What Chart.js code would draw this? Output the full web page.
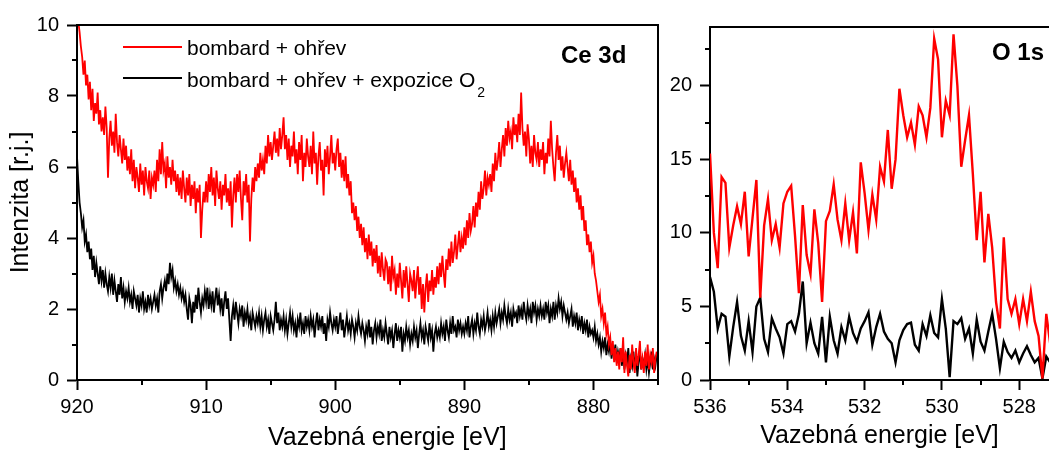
<!DOCTYPE html>
<html>
<head>
<meta charset="utf-8">
<script src="https://cdn.jsdelivr.net/npm/chart.js@4/dist/chart.umd.min.js"></script>
<style>
  html, body { margin: 0; padding: 0; background: #fff; }
  body { width: 1049px; height: 456px; position: relative; overflow: hidden;
         font-family: "Liberation Sans", Arial, sans-serif; color: #000; }
  canvas { position: absolute; top: 0; }
  #ceChart { left: 0; }
  #oChart { left: 660px; }
  .lbl { position: absolute; white-space: nowrap; line-height: 1; }
  .swatch { position: absolute; height: 2px; width: 59px; }
</style>
</head>
<body>
<canvas id="ceChart" width="660" height="456"></canvas>
<canvas id="oChart" width="389" height="456"></canvas>

<div class="swatch" style="left:123px; top:46px; background:#ff0000"></div>
<div class="lbl" style="left:187px; top:37px; font-size:21px">bombard + ohřev</div>
<div class="swatch" style="left:123px; top:77px; background:#000"></div>
<div class="lbl" style="left:187px; top:69px; font-size:21px">bombard + ohřev + expozice O<span style="font-size:14px; position:relative; top:10px; margin-left:2px">2</span></div>
<div class="lbl" style="left:561px; top:43px; font-size:24px; font-weight:bold">Ce 3d</div>
<div class="lbl" style="left:992px; top:40px; font-size:24px; font-weight:bold">O 1s</div>
<div class="lbl" style="left:268px; top:424px; font-size:25px">Vazebná energie [eV]</div>

<script>
const FONT = '"Liberation Sans", Arial, sans-serif';

// Ce 3d region, sampled every 0.1 eV from 920 eV downwards (one row = 2 eV)
const ceStart = 920;
const ceStep = 0.1;
const ceRed = [
  10.4, 10.1, 9.8, 9.4, 9.1, 8.6, 9.0, 8.3, 8.6, 7.9, 8.4, 7.6, 8.2, 7.3, 7.8, 7.5, 8.1, 7.2, 7.6, 7.0,
  7.4, 6.9, 7.7, 7.1, 5.7, 6.8, 7.3, 6.6, 7.0, 6.4, 7.5, 6.7, 6.3, 6.9, 6.5, 6.1, 6.8, 6.2, 6.6, 5.9,
  6.3, 5.8, 6.5, 5.6, 6.2, 5.4, 6.0, 5.7, 5.3, 6.1, 5.5, 5.9, 5.2, 6.0, 5.6, 5.4, 5.9, 5.1, 5.7, 5.5,
  5.9, 5.3, 6.2, 5.6, 6.5, 5.8, 6.7, 5.9, 6.1, 5.4, 6.3, 5.7, 6.0, 5.5, 6.2, 5.6, 5.9, 5.3, 5.8, 5.2,
  5.7, 5.1, 5.9, 5.4, 5.0, 5.7, 5.2, 5.8, 4.9, 5.5, 5.1, 5.6, 4.7, 5.4, 5.0, 5.5, 4.0, 4.8, 5.3, 5.0,
  5.6, 5.0, 5.8, 5.3, 6.0, 5.2, 5.7, 4.9, 5.9, 5.4, 5.1, 5.6, 4.8, 5.5, 5.2, 5.8, 5.0, 5.4, 4.9, 5.6,
  4.3, 5.2, 5.7, 5.0, 5.8, 5.3, 5.9, 5.1, 4.5, 5.6, 5.2, 5.8, 5.0, 5.5, 3.9, 5.1, 5.7, 5.3, 6.0, 5.6,
  6.1, 5.7, 6.4, 5.9, 6.2, 5.8, 6.6, 6.1, 6.9, 6.3, 6.7, 6.2, 6.6, 7.0, 6.4, 6.8, 6.3, 7.1, 6.5, 6.9,
  7.4, 6.5, 6.9, 6.2, 6.8, 6.0, 6.6, 6.3, 7.0, 6.1, 6.5, 5.8, 6.7, 6.2, 6.9, 5.6, 6.4, 6.0, 6.8, 6.3,
  6.0, 6.6, 5.8, 7.0, 6.1, 6.4, 5.5, 6.3, 6.7, 5.9, 6.2, 5.2, 6.5, 6.0, 6.6, 5.8, 6.3, 6.9, 6.1, 6.4,
  5.9, 6.5, 6.8, 6.0, 6.4, 5.7, 6.2, 5.6, 6.3, 5.4, 5.8, 5.2, 5.6, 4.7, 5.0, 4.5, 4.9, 4.2, 4.6, 4.0,
  4.4, 3.8, 4.3, 3.6, 4.0, 3.4, 4.1, 3.5, 3.9, 3.2, 3.7, 3.3, 3.8, 3.0, 3.5, 2.9, 3.6, 3.1, 2.8, 3.4,
  3.3, 2.7, 3.2, 2.5, 3.5, 2.9, 3.1, 2.4, 3.0, 2.6, 3.3, 2.8, 2.3, 3.1, 2.6, 3.2, 2.7, 2.2, 3.0, 2.8,
  2.5, 3.1, 2.3, 2.8, 3.2, 2.4, 2.9, 2.0, 2.7, 1.9, 2.6, 3.0, 2.2, 2.8, 2.5, 3.1, 2.4, 2.9, 2.6, 3.2,
  2.7, 3.3, 2.9, 3.5, 3.0, 2.6, 3.4, 3.1, 3.7, 3.2, 3.9, 3.3, 3.6, 4.1, 3.4, 3.8, 4.2, 3.6, 4.0, 3.7,
  4.3, 3.8, 4.5, 4.0, 4.7, 4.2, 4.4, 4.9, 4.3, 5.0, 4.6, 5.3, 4.8, 5.6, 5.1, 5.4, 5.9, 5.2, 5.7, 5.5,
  5.8, 5.3, 6.1, 5.6, 6.4, 5.9, 6.2, 6.7, 6.0, 6.5, 6.9, 6.3, 7.1, 6.6, 7.3, 6.8, 7.0, 6.5, 7.4, 6.9,
  7.2, 6.7, 7.5, 6.9, 8.1, 7.1, 6.6, 7.0, 6.3, 7.2, 6.8, 6.1, 6.6, 6.0, 6.9, 6.4, 6.2, 6.7, 6.0, 6.5,
  6.2, 6.7, 5.8, 6.4, 6.1, 6.8, 6.3, 7.3, 6.5, 6.0, 5.6, 6.4, 6.9, 6.2, 6.6, 5.9, 6.3, 5.7, 6.1, 6.4,
  6.0, 5.6, 6.2, 5.5, 5.9, 5.3, 5.7, 5.0, 5.4, 4.8, 5.2, 4.5, 4.9, 4.2, 4.5, 3.8, 4.1, 3.6, 3.9, 3.3,
  3.5, 3.0, 2.8, 2.5, 2.2, 2.4, 1.8, 2.0, 1.6, 1.9, 1.3, 1.5, 1.0, 1.2, 0.7, 1.1, 0.5, 0.9, 0.4, 0.8,
  0.3, 0.9, 0.5, 1.2, 0.2, 0.8, 0.4, 0.1, 0.7, 0.3, 1.0, 0.5, 0.2, 0.9, 0.4, 0.7, 1.1, 0.3, 0.6, 0.2,
  0.8, 0.4, 1.0, 0.3, 0.7, 0.5, 0.9, 0.2, 0.6, 0.8
];
const ceBlack = [
  6.3, 5.6, 5.0, 4.7, 4.3, 4.5, 3.9, 4.1, 3.6, 3.9, 3.4, 3.7, 3.1, 3.5, 2.9, 3.3, 3.0, 2.7, 3.2, 2.8,
  3.1, 2.6, 3.0, 2.7, 2.5, 2.9, 2.6, 3.0, 2.4, 2.8, 2.5, 2.2, 2.7, 2.4, 2.9, 2.3, 2.6, 2.2, 2.5, 2.3,
  2.6, 2.2, 2.4, 2.0, 2.5, 2.3, 2.1, 2.4, 1.9, 2.3, 2.1, 2.5, 2.0, 2.2, 1.9, 2.4, 2.1, 2.3, 2.0, 2.2,
  2.4, 2.1, 2.3, 1.9, 2.5, 2.7, 2.3, 2.6, 2.8, 2.5, 3.0, 2.7, 3.3, 2.9, 3.1, 2.6, 2.8, 2.5, 2.7, 2.4,
  2.6, 2.3, 2.5, 2.2, 2.4, 2.0, 1.7, 2.3, 2.1, 1.6, 2.2, 1.9, 2.4, 2.0, 2.6, 2.2, 1.9, 2.3, 2.1, 2.5,
  2.2, 2.6, 2.0, 2.4, 2.1, 2.5, 1.9, 2.3, 2.6, 2.1, 2.4, 2.0, 2.3, 1.8, 2.2, 2.5, 2.0, 2.3, 1.7, 1.1,
  1.8, 2.1, 1.7, 2.2, 1.9, 1.6, 2.0, 1.8, 2.1, 1.5, 1.9, 1.7, 2.0, 1.6, 1.8, 1.4, 1.9, 1.7, 1.5, 1.8,
  1.6, 1.9, 1.5, 1.8, 1.4, 1.7, 1.9, 1.5, 1.7, 1.3, 1.8, 1.6, 1.4, 1.7, 2.2, 1.6, 1.9, 1.4, 1.7, 1.5,
  1.8, 1.4, 1.7, 1.3, 1.6, 1.9, 1.5, 1.8, 1.4, 1.6, 1.2, 1.7, 1.5, 1.9, 1.4, 1.6, 1.3, 1.8, 1.5, 1.7,
  1.4, 1.8, 1.5, 1.7, 1.2, 1.6, 1.9, 1.4, 1.7, 1.5, 1.8, 1.3, 1.6, 1.1, 1.7, 1.5, 1.9, 1.6, 1.4, 1.7,
  1.5, 1.8, 1.3, 1.6, 1.9, 1.4, 1.7, 1.2, 1.5, 1.8, 1.4, 1.6, 1.3, 1.7, 1.5, 1.2, 1.6, 1.4, 1.8, 1.5,
  1.3, 1.6, 1.4, 1.1, 1.5, 1.3, 1.7, 1.2, 1.5, 1.0, 1.4, 1.6, 1.2, 1.5, 1.3, 1.7, 1.1, 1.4, 1.2, 1.6,
  1.3, 1.0, 1.5, 1.2, 1.4, 0.9, 1.3, 1.6, 1.1, 1.4, 1.2, 1.5, 0.8, 1.3, 1.1, 1.5, 1.2, 1.4, 1.0, 1.3,
  1.1, 1.5, 1.2, 1.4, 0.9, 1.3, 1.6, 1.2, 1.4, 1.0, 1.5, 1.3, 1.1, 1.6, 1.2, 1.4, 0.8, 1.3, 1.5, 1.2,
  1.4, 1.2, 1.6, 1.3, 1.5, 1.1, 1.7, 1.4, 1.2, 1.6, 1.3, 1.8, 1.4, 1.5, 1.2, 1.7, 1.4, 1.6, 1.3, 1.5,
  1.3, 1.6, 1.4, 1.8, 1.2, 1.5, 1.7, 1.3, 1.6, 1.4, 1.9, 1.5, 1.3, 1.7, 1.5, 1.8, 1.4, 1.6, 1.9, 1.5,
  1.7, 1.4, 1.8, 1.5, 1.9, 1.6, 1.8, 2.0, 1.6, 1.9, 1.7, 2.1, 1.8, 1.6, 2.0, 1.7, 1.9, 1.5, 2.0, 1.8,
  1.9, 1.6, 2.1, 1.8, 2.0, 1.7, 2.2, 1.9, 1.7, 2.1, 1.8, 2.0, 1.6, 2.2, 1.9, 2.1, 1.7, 2.0, 1.8, 2.1,
  1.8, 2.0, 1.7, 2.2, 1.9, 2.1, 1.6, 2.0, 1.8, 2.2, 1.7, 2.1, 1.9, 2.3, 2.0, 2.2, 1.8, 2.1, 1.9, 1.7,
  1.9, 1.6, 1.8, 2.0, 1.5, 1.8, 1.6, 1.9, 1.4, 1.7, 1.5, 1.8, 1.3, 1.6, 1.4, 1.7, 1.2, 1.5, 1.3, 1.4,
  1.2, 1.5, 1.1, 1.3, 1.0, 1.2, 0.8, 1.1, 0.9, 1.2, 0.7, 1.0, 0.8, 1.1, 0.6, 0.9, 0.7, 1.0, 0.5, 0.8,
  0.6, 0.9, 0.4, 0.8, 0.3, 0.7, 0.5, 0.9, 0.2, 0.6, 0.4, 0.8, 0.3, 0.7, 0.1, 0.5, 0.8, 0.3, 0.6, 0.4,
  0.7, 0.3, 0.6, 0.2, 0.5, 0.8, 0.3, 0.6, 0.4, 0.7
];

// O 1s region, sampled every 0.1 eV from 536 eV downwards
const oStart = 536;
const oStep = 0.1;
const oRed = [
  15.4, 10.0, 7.6, 13.8, 13.4, 9.0, 10.5, 11.8, 10.6, 12.8,
  8.4, 11.0, 13.6, 5.6, 10.5, 12.3, 9.5, 10.6, 9.0, 12.0,
  12.8, 13.2, 9.8, 5.9, 11.9, 8.5, 7.2, 11.6, 9.3, 5.3,
  10.8, 11.5, 13.3, 10.9, 9.5, 12.0, 9.5, 11.4, 8.6, 14.8,
  12.7, 10.2, 12.6, 10.9, 14.5, 13.5, 17.0, 13.0, 15.0, 19.8,
  18.0, 16.5, 17.5, 16.0, 18.6, 18.0, 16.5, 18.5, 23.2, 21.8,
  16.5, 19.0, 18.0, 23.5, 20.0, 14.5, 16.3, 18.0, 14.0, 9.5,
  12.8, 8.0, 11.3, 9.0, 5.3, 3.5, 9.7, 5.5, 4.5, 5.5,
  3.8, 5.5, 4.0, 6.0, 4.0, 3.0, 0.1, 4.5, 2.5
];
const oBlack = [
  7.0, 6.0, 3.5, 4.5, 4.3, 1.6, 3.6, 5.3, 3.0, 2.0,
  4.0, 1.9, 5.0, 5.6, 2.8, 1.9, 4.2, 3.5, 2.9, 1.8,
  3.8, 4.0, 3.3, 4.5, 6.7, 2.5, 3.9, 2.5, 1.8, 4.3,
  1.2, 4.3, 2.7, 1.8, 3.6, 2.7, 4.3, 3.2, 2.6, 3.5,
  4.0, 4.6, 2.4, 3.6, 4.5, 3.3, 2.8, 2.5, 1.2, 2.7,
  3.4, 3.8, 3.9, 2.4, 2.0, 3.8, 3.0, 4.4, 3.2, 2.9,
  5.5, 3.5, 0.2, 4.0, 3.8, 4.2, 2.8, 3.5, 1.8, 4.1,
  2.6, 2.0, 3.3, 4.5, 2.8, 0.8, 2.6, 1.9, 1.5, 2.0,
  1.2, 1.8, 2.3, 1.7, 1.2, 1.5, 0.1, 1.6, 1.2
];

// minor tick positions
const ceMinorX = [915, 905, 895, 885, 875];
const ceMinorY = [1, 3, 5, 7, 9];
const oMinorX = [535, 533, 531, 529];
const oMinorY = [2.5, 7.5, 12.5, 17.5, 22.5];

function toPoints(values, start, step) {
  return values.map((v, i) => ({ x: +(start - step * i).toFixed(2), y: v }));
}

// minor ticks + top/right frame lines
const frame = {
  id: 'frame',
  afterDraw(chart, args, opts) {
    const ctx = chart.ctx;
    const { left, right, top, bottom } = chart.chartArea;
    ctx.save();
    ctx.strokeStyle = '#000';
    ctx.lineWidth = 2;
    ctx.beginPath();
    opts.minorX.forEach((v) => {
      const px = Math.round(chart.scales.x.getPixelForValue(v));
      ctx.moveTo(px, bottom);
      ctx.lineTo(px, bottom + 5);
    });
    opts.minorY.forEach((v) => {
      const py = Math.round(chart.scales.y.getPixelForValue(v));
      ctx.moveTo(left, py);
      ctx.lineTo(left - 5, py);
    });
    ctx.moveTo(left - 1, top);
    ctx.lineTo(right + 1, top);
    if (opts.right) {
      ctx.moveTo(right, top);
      ctx.lineTo(right, bottom);
    }
    ctx.stroke();
    ctx.restore();
  }
};

function xScale(min, max, step, title, titleShown) {
  return {
    type: 'linear', reverse: true, min: min, max: max,
    ticks: { stepSize: step, includeBounds: false, color: '#000', padding: 5,
             font: { family: FONT, size: 20 } },
    grid: { drawOnChartArea: false, tickLength: 10, tickWidth: 2, tickColor: '#000' },
    border: { color: '#000', width: 2 },
    title: { display: titleShown, text: title, color: '#000',
             font: { family: FONT, size: 25 }, padding: { top: 0, bottom: 5 } },
    afterFit(s) { s.height = 76; }
  };
}

function yScale(max, step, width, title) {
  return {
    min: 0, max: max,
    ticks: { stepSize: step, includeBounds: false, color: '#000', padding: 8,
             font: { family: FONT, size: 20 } },
    grid: { drawOnChartArea: false, tickLength: 10, tickWidth: 2, tickColor: '#000' },
    border: { color: '#000', width: 2 },
    title: { display: !!title, text: title || '', color: '#000',
             font: { family: FONT, size: 25 }, padding: { top: 6, bottom: 0 } },
    afterFit(s) { s.width = width; }
  };
}

function line(label, points, color, width) {
  return { label: label, data: points, borderColor: color, borderWidth: width,
           pointRadius: 0, tension: 0, fill: false };
}

new Chart(document.getElementById('ceChart'), {
  type: 'line',
  data: {
    datasets: [
      line('bombard + ohřev', toPoints(ceRed, ceStart, ceStep), '#ff0000', 1.8),
      line('bombard + ohřev + expozice O2', toPoints(ceBlack, ceStart, ceStep), '#000000', 1.8)
    ]
  },
  options: {
    responsive: false, animation: false,
    layout: { padding: { top: 25, right: 2, left: 0, bottom: 0 } },
    plugins: {
      legend: { display: false }, tooltip: { enabled: false },
      frame: { minorX: ceMinorX, minorY: ceMinorY, right: true }
    },
    scales: {
      x: xScale(875, 920, 10, 'Vazebná energie [eV]', false),
      y: yScale(10, 2, 77, 'Intenzita [r.j.]')
    }
  },
  plugins: [frame]
});

new Chart(document.getElementById('oChart'), {
  type: 'line',
  data: {
    datasets: [
      line('bombard + ohřev', toPoints(oRed, oStart, oStep), '#ff0000', 2.4),
      line('bombard + ohřev + expozice O2', toPoints(oBlack, oStart, oStep), '#000000', 2.4)
    ]
  },
  options: {
    responsive: false, animation: false,
    layout: { padding: { top: 27, right: 0, left: 0, bottom: 0 } },
    plugins: {
      legend: { display: false }, tooltip: { enabled: false },
      frame: { minorX: oMinorX, minorY: oMinorY, right: false }
    },
    scales: {
      x: xScale(527.23, 536, 2, 'Vazebná energie [eV]', true),
      y: yScale(24, 5, 50, null)
    }
  },
  plugins: [frame]
});
</script>
</body>
</html>
